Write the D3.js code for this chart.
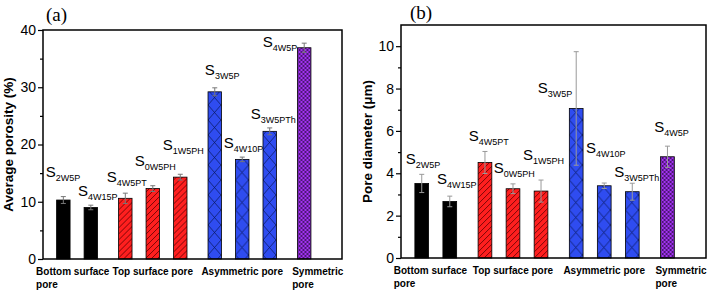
<!DOCTYPE html>
<html>
<head>
<meta charset="utf-8">
<script src="https://cdn.jsdelivr.net/npm/d3@7"></script>
<style>
  body { margin: 0; background: #fff; }
  svg { display: block; font-family: "Liberation Sans", Arial, sans-serif; }
</style>
</head>
<body>
<svg id="chart" width="710" height="292"></svg>
<script>
// sample names (S + subscript)
const subs = ["2W5P", "4W15P", "4W5PT", "0W5PH", "1W5PH", "3W5P", "4W10P", "3W5PTh", "4W5P"];
// group of each bar: 0 bottom, 1 top, 2 asymmetric, 3 symmetric
const groupOf = [0, 0, 1, 1, 1, 2, 2, 2, 3];
const groupLabels = [["Bottom surface", "pore"], ["Top surface pore"], ["Asymmetric pore"], ["Symmetric", "pore"]];

// panel (a) average porosity (%)
const porosity = [10.3, 9.0, 10.6, 12.3, 14.3, 29.2, 17.4, 22.3, 36.9];
const porosityErr = [0.6, 0.4, 0.9, 0.5, 0.5, 0.7, 0.4, 0.6, 0.8];
const porosityTicks = [0, 10, 20, 30, 40];
// label anchors in data units: [slot, value]
const porosityLabelAt = [[-0.64, 14.3], [0.53, 11.0], [1.58, 13.45], [2.6, 16.2], [3.62, 19.0], [5.15, 32.1], [5.84, 19.4], [6.82, 24.45], [7.26, 37.0]];

// panel (b) pore diameter (µm)
const diameter = [3.52, 2.67, 4.51, 3.27, 3.16, 7.06, 3.41, 3.13, 4.78];
const diameterErr = [0.43, 0.25, 0.52, 0.23, 0.52, 2.68, 0.13, 0.4, 0.5];
const diameterTicks = [0, 2, 4, 6, 8, 10];
const diameterLabelAt = [[-0.57, 4.43], [0.54, 3.49], [1.68, 5.52], [2.57, 4.0], [3.61, 4.62], [4.14, 7.78], [5.86, 4.95], [6.87, 3.82], [8.29, 5.94]];

const groupColors = ["#000000", "#ff1f1f", "#2f4cf0", "#a233f2"];
const groupGap = 0.255;

const svg = d3.select("#chart");
const defs = svg.append("defs");

// slot position of each bar along the x axis
const slots = groupOf.map((g, i) => i + g * groupGap);

function makePattern(id, group, x0, color) {
  if (group === 0) return color;
  const p = defs.append("pattern").attr("id", id).attr("patternUnits", "userSpaceOnUse");
  if (group === 1) {
    p.attr("width", 6).attr("height", 6).attr("x", x0);
    p.append("rect").attr("width", 6).attr("height", 6).attr("fill", color);
    p.append("path").attr("d", "M0,6L6,0M-1,1L1,-1M5,7L7,5").attr("stroke", "#5a0000").attr("stroke-width", 0.8);
  } else if (group === 2) {
    p.attr("width", 13).attr("height", 15).attr("x", x0);
    p.append("rect").attr("width", 13).attr("height", 15).attr("fill", color);
    p.append("path").attr("d", "M0,0L13,15M13,0L0,15").attr("stroke", "#0a1a66").attr("stroke-width", 0.8);
  } else {
    p.attr("width", 4).attr("height", 4).attr("x", x0);
    p.append("rect").attr("width", 4).attr("height", 4).attr("fill", color);
    p.append("path").attr("d", "M0,0L4,4M4,0L0,4").attr("stroke", "#2a0a40").attr("stroke-width", 0.7);
  }
  return `url(#${id})`;
}

function drawPanel(opt) {
  const g = svg.append("g");
  const x = d3.scaleLinear().domain([-0.74, 10.14]).range([opt.left, opt.right]);
  const y = d3.scaleLinear().domain(opt.domain).range([opt.bottom, opt.top]);
  const bw = x(0.49) - x(0);

  // bars
  opt.values.forEach((v, i) => {
    const x0 = x(slots[i]) - bw / 2;
    const fill = makePattern(`${opt.id}-p${i}`, groupOf[i], x0, groupColors[groupOf[i]]);
    g.append("rect")
      .attr("x", x0)
      .attr("y", y(v))
      .attr("width", bw)
      .attr("height", y(0) - y(v))
      .attr("fill", fill)
      .attr("stroke", "#000")
      .attr("stroke-width", 0.8);
  });

  // error bars
  const eb = g.append("g").attr("stroke", opt.errColor).attr("stroke-width", 1).attr("fill", "none");
  opt.values.forEach((v, i) => {
    const cx = x(slots[i]);
    const hi = y(v + opt.errors[i]), lo = y(v - opt.errors[i]);
    eb.append("line").attr("x1", cx).attr("x2", cx).attr("y1", hi).attr("y2", lo);
    eb.append("line").attr("x1", cx - 2.5).attr("x2", cx + 2.5).attr("y1", hi).attr("y2", hi);
    eb.append("line").attr("x1", cx - 2.5).attr("x2", cx + 2.5).attr("y1", lo).attr("y2", lo);
  });

  // frame
  g.append("rect")
    .attr("x", opt.left).attr("y", opt.top)
    .attr("width", opt.right - opt.left).attr("height", opt.bottom - opt.top)
    .attr("fill", "none").attr("stroke", "#000").attr("stroke-width", 1.5);

  // y axis with minor ticks
  const step = opt.ticks[1] - opt.ticks[0];
  const minor = opt.ticks.map(t => t + step / 2).filter(t => t < opt.domain[1]);
  g.append("g")
    .attr("transform", `translate(${opt.left},0)`)
    .call(d3.axisLeft(y).tickValues(minor).tickSize(3).tickFormat(""))
    .call(a => a.select(".domain").remove())
    .selectAll("line").attr("stroke-width", 1.2);
  const ya = g.append("g")
    .attr("transform", `translate(${opt.left},0)`)
    .call(d3.axisLeft(y).tickValues(opt.ticks).tickSize(5).tickPadding(2));
  ya.select(".domain").remove();
  ya.selectAll("line").attr("stroke-width", 1.2);
  ya.selectAll("text").attr("font-size", 14).attr("fill", "#000")
    .attr("font-family", "Liberation Sans, Arial, sans-serif");

  // y title
  g.append("text")
    .attr("transform", `translate(${opt.titleX},${(opt.top + opt.bottom) / 2}) rotate(-90)`)
    .attr("text-anchor", "middle")
    .attr("font-size", 13.5)
    .attr("font-weight", "bold")
    .text(opt.title);

  // panel letter
  g.append("text")
    .attr("x", opt.letterX).attr("y", opt.letterY)
    .attr("font-family", "Liberation Serif, Times New Roman, serif")
    .attr("font-size", 19)
    .text(opt.letter);

  // sample labels
  opt.labelAt.forEach((p, i) => {
    const t = g.append("text").attr("x", x(p[0])).attr("y", y(p[1]));
    t.append("tspan").attr("font-size", 15).text("S");
    t.append("tspan").attr("font-size", 9).attr("dy", 4).text(subs[i]);
  });

  // group labels under the axis
  groupLabels.forEach((lines, gi) => {
    const idx = groupOf.map((gg, i) => gg === gi ? i : -1).filter(i => i >= 0);
    const cx = (x(slots[idx[0]]) + x(slots[idx[idx.length - 1]])) / 2;
    const t = g.append("text")
      .attr("font-size", 10)
      .attr("font-weight", "bold")
      .attr("text-anchor", opt.catAnchor[gi])
      .attr("x", cx + opt.catDx[gi])
      .attr("y", opt.bottom + 16);
    lines.forEach((ln, k) => {
      t.append("tspan").attr("x", cx + opt.catDx[gi]).attr("dy", k === 0 ? 0 : 13).text(ln);
    });
  });
}

drawPanel({
  id: "a", left: 43, right: 342, top: 30, bottom: 259,
  domain: [0, 40], ticks: porosityTicks,
  values: porosity, errors: porosityErr, labelAt: porosityLabelAt,
  errColor: "#777", title: "Average porosity (%)", titleX: 13,
  letter: "(a)", letterX: 46, letterY: 21,
  catAnchor: ["start", "middle", "middle", "start"], catDx: [-41, 0, 0, -12]
});

drawPanel({
  id: "b", left: 401, right: 706, top: 25, bottom: 258,
  domain: [0, 11], ticks: diameterTicks,
  values: diameter, errors: diameterErr, labelAt: diameterLabelAt,
  errColor: "#999", title: "Pore diameter (\u03bcm)", titleX: 372,
  letter: "(b)", letterX: 410, letterY: 19,
  catAnchor: ["start", "middle", "middle", "start"], catDx: [-42, 0, 0, -12]
});
</script>
</body>
</html>
